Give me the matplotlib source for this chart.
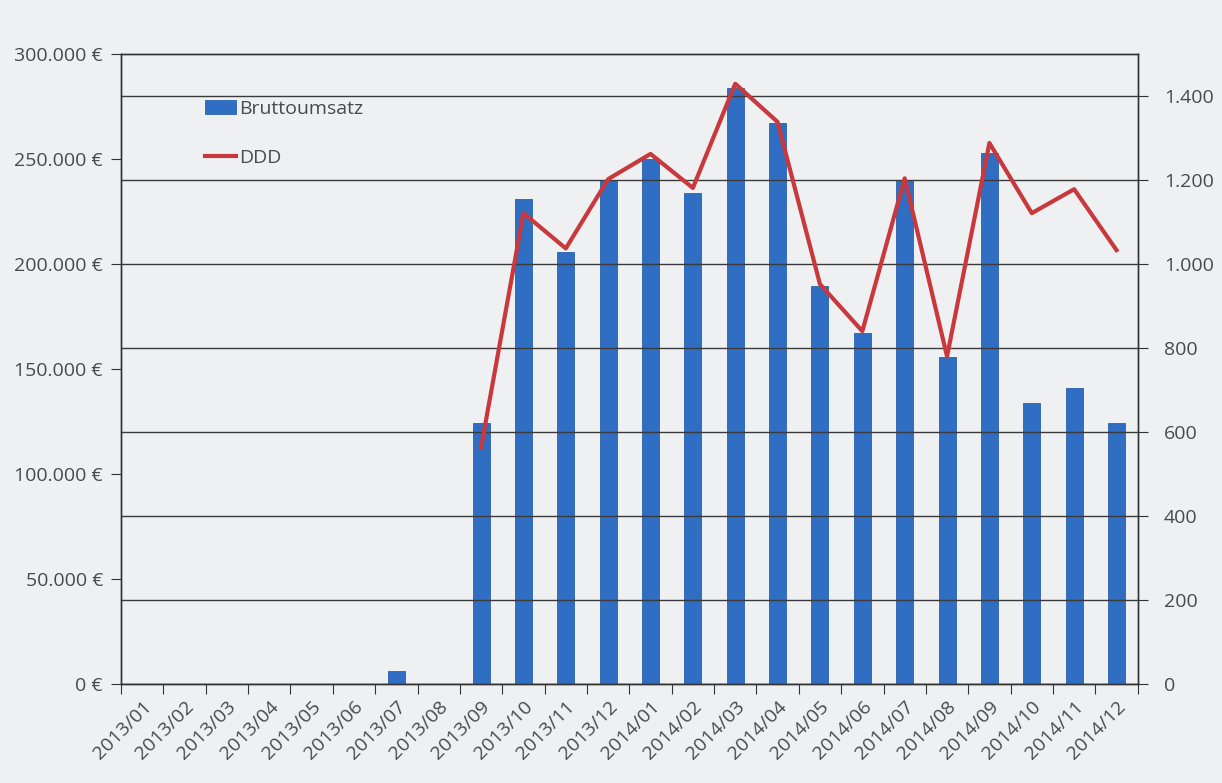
import numpy as np
import matplotlib
matplotlib.use('Agg')
import matplotlib.pyplot as plt
from matplotlib.ticker import FuncFormatter, MultipleLocator

plt.rcParams['font.family'] = ['Open Sans', 'DejaVu Sans']

# Daten
months = ['2013/01', '2013/02', '2013/03', '2013/04', '2013/05', '2013/06',
          '2013/07', '2013/08', '2013/09', '2013/10', '2013/11', '2013/12',
          '2014/01', '2014/02', '2014/03', '2014/04', '2014/05', '2014/06',
          '2014/07', '2014/08', '2014/09', '2014/10', '2014/11', '2014/12']
umsatz = [0, 0, 0, 0, 0, 0,
          6000, 0, 124500, 231000, 205500, 239500,
          250000, 234000, 284000, 267000, 189500, 167000,
          239500, 155500, 253000, 134000, 141000, 124300]
ddd = [np.nan] * 8 + [563, 1121, 1037, 1202,
                      1262, 1181, 1429, 1338, 952, 840,
                      1204, 780, 1288, 1121, 1178, 1033]

BG = '#eff0f1'
TXT = '#4a4a4a'
FS = 14

fig = plt.figure(figsize=(12.22, 7.83), dpi=100, facecolor=BG)
ax = fig.add_axes([0.099, 0.1264, 0.832, 0.8047])
ax.set_facecolor(BG)
ax2 = ax.twinx()

x = np.arange(len(months))
bars = ax.bar(x, umsatz, width=0.4, color='#2f6ec2', edgecolor='#2a62ad',
              linewidth=0.6, label='Bruttoumsatz', zorder=3)
line, = ax2.plot(x, ddd, color='#c8383c', lw=3, label='DDD', zorder=4)

ax.set_xlim(-0.5, len(months) - 0.5)
ax.set_ylim(0, 300000)
ax2.set_ylim(0, 1500)

# Gitterlinien an der rechten Achse
ax2.set_yticks(np.arange(0, 1401, 200))
ax2.grid(True, axis='y', color='#3a3a3a', lw=1.0, zorder=1)
ax.set_axisbelow(True)
ax2.set_zorder(ax.get_zorder() + 1)
ax2.patch.set_visible(False)
ax.yaxis.set_major_locator(MultipleLocator(50000))

ax.yaxis.set_major_formatter(FuncFormatter(lambda v, p: f'{int(v):,} €'.replace(',', '.')))
ax2.yaxis.set_major_formatter(FuncFormatter(lambda v, p: f'{int(v):,}'.replace(',', '.')))

ax.set_xticks(np.arange(-0.5, len(months), 1), minor=False)
ax.set_xticklabels([])
ax.set_xticks(x, minor=True)
ax.set_xticklabels(months, minor=True, rotation=45, ha='right', rotation_mode='anchor',
                   fontsize=FS, color=TXT)
ax.tick_params(axis='x', which='minor', length=0, pad=10)
ax.tick_params(axis='x', which='major', length=7, color='#333333', direction='out')
ax.tick_params(axis='y', length=7, color='#333333', labelsize=FS, labelcolor=TXT, pad=6)
ax2.tick_params(axis='y', length=7, color='#333333', labelsize=FS, labelcolor=TXT, pad=12)

for a in (ax, ax2):
    for s in a.spines.values():
        s.set_color('#333333')
        s.set_linewidth(1.0)

leg = ax.legend([bars, line], ['Bruttoumsatz', 'DDD'], loc='upper left',
                bbox_to_anchor=(0.065, 0.955), frameon=False, fontsize=FS,
                handlelength=1.6, handletextpad=0.2, labelspacing=1.6)
for t in leg.get_texts():
    t.set_color(TXT)

fig.savefig('out.png', dpi=100, facecolor=BG)
